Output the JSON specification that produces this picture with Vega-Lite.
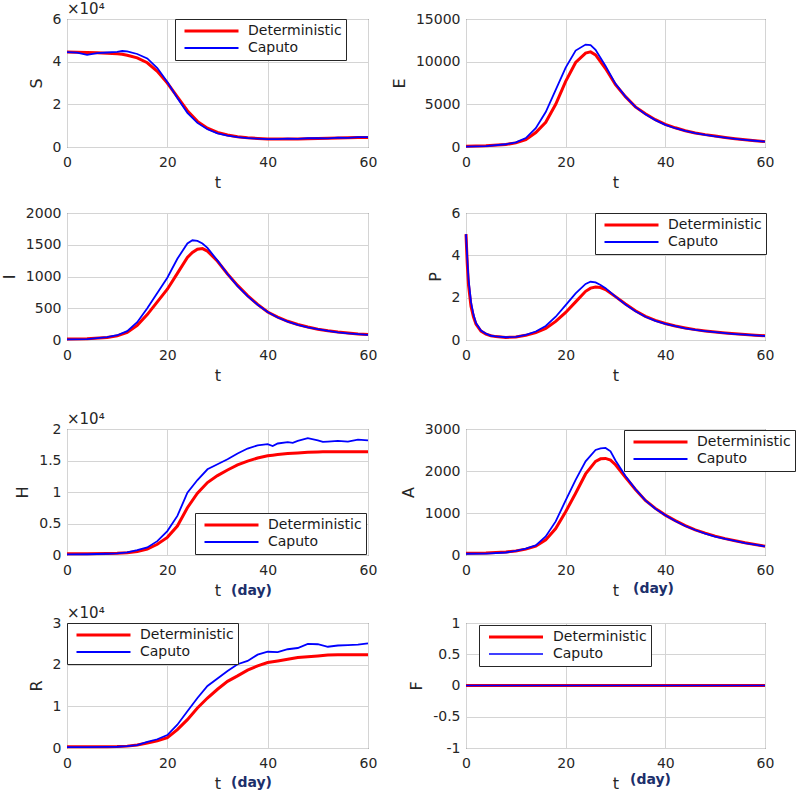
{
  "$schema": "https://vega.github.io/schema/vega-lite/v6.json",
  "padding": {"left": 0, "top": 1, "right": 0, "bottom": 0},
  "background": "white",
  "config": {
    "view": {"stroke": "#262626", "strokeWidth": 1},
    "font": "DejaVu Sans",
    "axis": {"labelFont": "DejaVu Sans", "labelFontSize": 14, "labelColor": "#262626", "titleFont": "DejaVu Sans", "titleFontSize": 16, "titleFontWeight": "normal", "titleColor": "#262626", "ticks": false, "domain": false, "gridColor": "#d4d4d4", "gridWidth": 1, "labelFlush": false, "labelOverlap": false},
    "axisX": {"labelPadding": 8, "titlePadding": 5},
    "axisY": {"labelPadding": 6, "titlePadding": 8},
    "legend": {"labelFont": "DejaVu Sans", "labelFontSize": 14, "labelColor": "#1a1a1a", "fillColor": "#ffffff", "strokeColor": "#262626", "padding": 4, "symbolSize": 2916, "symbolOffset": 4, "labelOffset": 8, "clipHeight": 16, "rowPadding": 1, "symbolType": "stroke"},
    "title": {"font": "DejaVu Sans", "fontSize": 15, "fontWeight": "normal", "color": "#262626", "anchor": "start", "frame": "group", "offset": -5}
  },
  "datasets": {
    "S": [
      {"t":0,"Deterministic":44500,"Caputo":44500},{"t":2,"Deterministic":44400,"Caputo":44200},{"t":4,"Deterministic":44300,"Caputo":43200},{"t":6,"Deterministic":44200,"Caputo":44000},{"t":8,"Deterministic":44000,"Caputo":44300},{"t":10,"Deterministic":43700,"Caputo":44600},{"t":11,"Deterministic":43500,"Caputo":45000},{"t":12,"Deterministic":43000,"Caputo":44800},{"t":14,"Deterministic":41800,"Caputo":43600},{"t":16,"Deterministic":39500,"Caputo":41500},{"t":18,"Deterministic":35500,"Caputo":37000},{"t":20,"Deterministic":30000,"Caputo":30500},{"t":22,"Deterministic":23500,"Caputo":23000},{"t":24,"Deterministic":17000,"Caputo":16000},{"t":26,"Deterministic":12000,"Caputo":11300},{"t":28,"Deterministic":8800,"Caputo":8300},{"t":30,"Deterministic":6800,"Caputo":6400},{"t":32,"Deterministic":5600,"Caputo":5300},{"t":34,"Deterministic":4800,"Caputo":4600},{"t":36,"Deterministic":4300,"Caputo":4200},{"t":38,"Deterministic":4000,"Caputo":3900},{"t":40,"Deterministic":3800,"Caputo":3700},{"t":42,"Deterministic":3700,"Caputo":3700},{"t":44,"Deterministic":3700,"Caputo":3900},{"t":46,"Deterministic":3800,"Caputo":3800},{"t":48,"Deterministic":3900,"Caputo":4100},{"t":50,"Deterministic":4000,"Caputo":4100},{"t":52,"Deterministic":4100,"Caputo":4000},{"t":54,"Deterministic":4200,"Caputo":4400},{"t":56,"Deterministic":4300,"Caputo":4300},{"t":58,"Deterministic":4400,"Caputo":4600},{"t":60,"Deterministic":4500,"Caputo":4600}
    ],
    "E": [
      {"t":0,"Deterministic":100,"Caputo":50},{"t":4,"Deterministic":140,"Caputo":100},{"t":8,"Deterministic":300,"Caputo":320},{"t":10,"Deterministic":480,"Caputo":550},{"t":12,"Deterministic":850,"Caputo":1050},{"t":14,"Deterministic":1700,"Caputo":2200},{"t":16,"Deterministic":2900,"Caputo":4100},{"t":18,"Deterministic":5000,"Caputo":6700},{"t":20,"Deterministic":7700,"Caputo":9300},{"t":22,"Deterministic":9900,"Caputo":11300},{"t":24,"Deterministic":11000,"Caputo":12000},{"t":25,"Deterministic":11150,"Caputo":11950},{"t":26,"Deterministic":10800,"Caputo":11400},{"t":28,"Deterministic":9200,"Caputo":9500},{"t":30,"Deterministic":7300,"Caputo":7400},{"t":32,"Deterministic":5900,"Caputo":5900},{"t":34,"Deterministic":4700,"Caputo":4700},{"t":36,"Deterministic":3900,"Caputo":3850},{"t":38,"Deterministic":3200,"Caputo":3150},{"t":40,"Deterministic":2650,"Caputo":2600},{"t":42,"Deterministic":2250,"Caputo":2200},{"t":44,"Deterministic":1900,"Caputo":1880},{"t":46,"Deterministic":1650,"Caputo":1620},{"t":48,"Deterministic":1450,"Caputo":1420},{"t":50,"Deterministic":1280,"Caputo":1250},{"t":52,"Deterministic":1120,"Caputo":1100},{"t":54,"Deterministic":980,"Caputo":960},{"t":56,"Deterministic":850,"Caputo":840},{"t":58,"Deterministic":740,"Caputo":730},{"t":60,"Deterministic":630,"Caputo":620}
    ],
    "I": [
      {"t":0,"Deterministic":15,"Caputo":10},{"t":4,"Deterministic":18,"Caputo":14},{"t":8,"Deterministic":40,"Caputo":45},{"t":10,"Deterministic":65,"Caputo":75},{"t":12,"Deterministic":120,"Caputo":140},{"t":14,"Deterministic":230,"Caputo":280},{"t":16,"Deterministic":400,"Caputo":500},{"t":18,"Deterministic":600,"Caputo":740},{"t":20,"Deterministic":800,"Caputo":980},{"t":22,"Deterministic":1050,"Caputo":1280},{"t":24,"Deterministic":1300,"Caputo":1520},{"t":25,"Deterministic":1380,"Caputo":1570},{"t":26,"Deterministic":1430,"Caputo":1560},{"t":27,"Deterministic":1440,"Caputo":1520},{"t":28,"Deterministic":1400,"Caputo":1450},{"t":30,"Deterministic":1240,"Caputo":1250},{"t":32,"Deterministic":1040,"Caputo":1040},{"t":34,"Deterministic":860,"Caputo":850},{"t":36,"Deterministic":700,"Caputo":690},{"t":38,"Deterministic":560,"Caputo":555},{"t":40,"Deterministic":440,"Caputo":440},{"t":42,"Deterministic":360,"Caputo":355},{"t":44,"Deterministic":295,"Caputo":290},{"t":46,"Deterministic":245,"Caputo":240},{"t":48,"Deterministic":205,"Caputo":200},{"t":50,"Deterministic":170,"Caputo":170},{"t":52,"Deterministic":145,"Caputo":145},{"t":54,"Deterministic":125,"Caputo":120},{"t":56,"Deterministic":110,"Caputo":105},{"t":58,"Deterministic":95,"Caputo":92},{"t":60,"Deterministic":85,"Caputo":82}
    ],
    "P": [
      {"t":0,"Deterministic":5.0,"Caputo":5.0},{"t":0.25,"Deterministic":3.6,"Caputo":3.9},{"t":0.5,"Deterministic":2.6,"Caputo":2.9},{"t":1,"Deterministic":1.6,"Caputo":1.8},{"t":1.5,"Deterministic":1.1,"Caputo":1.2},{"t":2,"Deterministic":0.75,"Caputo":0.8},{"t":3,"Deterministic":0.42,"Caputo":0.45},{"t":4,"Deterministic":0.28,"Caputo":0.3},{"t":5,"Deterministic":0.2,"Caputo":0.2},{"t":6,"Deterministic":0.16,"Caputo":0.17},{"t":8,"Deterministic":0.12,"Caputo":0.13},{"t":10,"Deterministic":0.14,"Caputo":0.15},{"t":12,"Deterministic":0.22,"Caputo":0.24},{"t":14,"Deterministic":0.35,"Caputo":0.4},{"t":16,"Deterministic":0.55,"Caputo":0.66},{"t":18,"Deterministic":0.88,"Caputo":1.1},{"t":20,"Deterministic":1.3,"Caputo":1.65},{"t":22,"Deterministic":1.8,"Caputo":2.2},{"t":24,"Deterministic":2.3,"Caputo":2.65},{"t":25,"Deterministic":2.45,"Caputo":2.75},{"t":26,"Deterministic":2.5,"Caputo":2.72},{"t":27,"Deterministic":2.48,"Caputo":2.6},{"t":28,"Deterministic":2.38,"Caputo":2.45},{"t":30,"Deterministic":2.05,"Caputo":2.05},{"t":32,"Deterministic":1.7,"Caputo":1.68},{"t":34,"Deterministic":1.38,"Caputo":1.36},{"t":36,"Deterministic":1.12,"Caputo":1.1},{"t":38,"Deterministic":0.93,"Caputo":0.9},{"t":40,"Deterministic":0.78,"Caputo":0.76},{"t":42,"Deterministic":0.66,"Caputo":0.65},{"t":44,"Deterministic":0.57,"Caputo":0.55},{"t":46,"Deterministic":0.49,"Caputo":0.48},{"t":48,"Deterministic":0.43,"Caputo":0.42},{"t":50,"Deterministic":0.38,"Caputo":0.37},{"t":52,"Deterministic":0.33,"Caputo":0.32},{"t":54,"Deterministic":0.29,"Caputo":0.28},{"t":56,"Deterministic":0.26,"Caputo":0.25},{"t":58,"Deterministic":0.23,"Caputo":0.22},{"t":60,"Deterministic":0.2,"Caputo":0.19}
    ],
    "H": [
      {"t":0,"Deterministic":200,"Caputo":100},{"t":4,"Deterministic":200,"Caputo":120},{"t":8,"Deterministic":220,"Caputo":200},{"t":10,"Deterministic":260,"Caputo":260},{"t":12,"Deterministic":350,"Caputo":420},{"t":14,"Deterministic":570,"Caputo":790},{"t":16,"Deterministic":950,"Caputo":1200},{"t":18,"Deterministic":1700,"Caputo":2200},{"t":20,"Deterministic":2800,"Caputo":3800},{"t":22,"Deterministic":4600,"Caputo":6200},{"t":24,"Deterministic":7500,"Caputo":9900},{"t":26,"Deterministic":9800,"Caputo":11900},{"t":28,"Deterministic":11500,"Caputo":13600},{"t":30,"Deterministic":12600,"Caputo":14400},{"t":32,"Deterministic":13500,"Caputo":15200},{"t":34,"Deterministic":14300,"Caputo":16100},{"t":36,"Deterministic":14900,"Caputo":16900},{"t":38,"Deterministic":15400,"Caputo":17400},{"t":40,"Deterministic":15750,"Caputo":17600},{"t":41,"Deterministic":15850,"Caputo":17300},{"t":42,"Deterministic":15950,"Caputo":17700},{"t":44,"Deterministic":16100,"Caputo":17900},{"t":45,"Deterministic":16150,"Caputo":17800},{"t":46,"Deterministic":16200,"Caputo":18100},{"t":48,"Deterministic":16300,"Caputo":18550},{"t":50,"Deterministic":16350,"Caputo":18200},{"t":51,"Deterministic":16370,"Caputo":17950},{"t":52,"Deterministic":16380,"Caputo":18000},{"t":54,"Deterministic":16400,"Caputo":18100},{"t":56,"Deterministic":16400,"Caputo":18000},{"t":58,"Deterministic":16400,"Caputo":18300},{"t":60,"Deterministic":16400,"Caputo":18200}
    ],
    "A": [
      {"t":0,"Deterministic":40,"Caputo":30},{"t":4,"Deterministic":45,"Caputo":35},{"t":8,"Deterministic":70,"Caputo":60},{"t":10,"Deterministic":95,"Caputo":100},{"t":12,"Deterministic":140,"Caputo":150},{"t":14,"Deterministic":210,"Caputo":230},{"t":16,"Deterministic":360,"Caputo":440},{"t":18,"Deterministic":630,"Caputo":800},{"t":20,"Deterministic":1030,"Caputo":1300},{"t":22,"Deterministic":1470,"Caputo":1790},{"t":24,"Deterministic":1930,"Caputo":2230},{"t":26,"Deterministic":2230,"Caputo":2500},{"t":27,"Deterministic":2290,"Caputo":2540},{"t":28,"Deterministic":2300,"Caputo":2550},{"t":29,"Deterministic":2260,"Caputo":2470},{"t":30,"Deterministic":2150,"Caputo":2250},{"t":32,"Deterministic":1850,"Caputo":1880},{"t":34,"Deterministic":1560,"Caputo":1570},{"t":36,"Deterministic":1300,"Caputo":1300},{"t":38,"Deterministic":1110,"Caputo":1100},{"t":40,"Deterministic":950,"Caputo":945},{"t":42,"Deterministic":820,"Caputo":810},{"t":44,"Deterministic":700,"Caputo":690},{"t":46,"Deterministic":600,"Caputo":595},{"t":48,"Deterministic":520,"Caputo":510},{"t":50,"Deterministic":450,"Caputo":440},{"t":52,"Deterministic":390,"Caputo":385},{"t":54,"Deterministic":340,"Caputo":335},{"t":56,"Deterministic":290,"Caputo":285},{"t":58,"Deterministic":250,"Caputo":245},{"t":60,"Deterministic":210,"Caputo":205}
    ],
    "R": [
      {"t":0,"Deterministic":300,"Caputo":200},{"t":4,"Deterministic":300,"Caputo":200},{"t":8,"Deterministic":320,"Caputo":250},{"t":10,"Deterministic":350,"Caputo":300},{"t":12,"Deterministic":450,"Caputo":450},{"t":14,"Deterministic":700,"Caputo":700},{"t":16,"Deterministic":1200,"Caputo":1450},{"t":18,"Deterministic":1700,"Caputo":2100},{"t":20,"Deterministic":2500,"Caputo":3100},{"t":22,"Deterministic":4400,"Caputo":5600},{"t":24,"Deterministic":6800,"Caputo":8800},{"t":26,"Deterministic":9600,"Caputo":12000},{"t":28,"Deterministic":12000,"Caputo":14900},{"t":30,"Deterministic":14100,"Caputo":16700},{"t":32,"Deterministic":16000,"Caputo":18500},{"t":34,"Deterministic":17300,"Caputo":20100},{"t":36,"Deterministic":18700,"Caputo":20900},{"t":38,"Deterministic":19700,"Caputo":22400},{"t":40,"Deterministic":20500,"Caputo":23100},{"t":42,"Deterministic":20900,"Caputo":23000},{"t":44,"Deterministic":21300,"Caputo":23700},{"t":46,"Deterministic":21700,"Caputo":24000},{"t":48,"Deterministic":21900,"Caputo":25000},{"t":50,"Deterministic":22100,"Caputo":24900},{"t":52,"Deterministic":22300,"Caputo":24300},{"t":54,"Deterministic":22400,"Caputo":24600},{"t":56,"Deterministic":22400,"Caputo":24700},{"t":58,"Deterministic":22400,"Caputo":24800},{"t":60,"Deterministic":22400,"Caputo":25100}
    ],
    "F": [
      {"t":0,"Deterministic":0,"Caputo":0},{"t":30,"Deterministic":0,"Caputo":0},{"t":60,"Deterministic":0,"Caputo":0}
    ]
  },
  "columns": 2,
  "bounds": "flush",
  "spacing": {"row": 0, "column": 98},
  "resolve": {"scale": {"x": "independent", "y": "independent", "color": "independent", "strokeWidth": "independent"}, "legend": {"color": "independent", "strokeWidth": "independent"}},
  "concat": [
    {
      "width": 301, "height": 128,
      "title": {"text": "×10⁴"},
      "data": {"name": "S"},
      "transform": [{"fold": ["Deterministic", "Caputo"], "as": ["series", "value"]}],
      "mark": {"type": "line"},
      "encoding": {
        "x": {"field": "t", "type": "quantitative", "scale": {"domain": [0, 60], "nice": false}, "axis": {"values": [0, 20, 40, 60], "title": "t"}},
        "y": {"field": "value", "type": "quantitative", "scale": {"domain": [0, 60000], "nice": false}, "axis": {"values": [0, 20000, 40000, 60000], "title": "S", "labelExpr": "'' + (datum.value / 10000)"}},
        "color": {"field": "series", "type": "nominal", "scale": {"domain": ["Deterministic", "Caputo"], "range": ["#ff0000", "#0000ff"]}, "legend": {"title": null, "orient": "none", "legendX": 108, "legendY": 0}},
        "strokeWidth": {"field": "series", "type": "ordinal", "scale": {"domain": ["Deterministic", "Caputo"], "range": [3, 1.8]}, "legend": {"title": null, "orient": "none", "legendX": 108, "legendY": 0}}
      }
    },
    {
      "width": 299, "height": 128,
      "data": {"name": "E"},
      "transform": [{"fold": ["Deterministic", "Caputo"], "as": ["series", "value"]}],
      "mark": {"type": "line"},
      "encoding": {
        "x": {"field": "t", "type": "quantitative", "scale": {"domain": [0, 60], "nice": false}, "axis": {"values": [0, 20, 40, 60], "title": "t"}},
        "y": {"field": "value", "type": "quantitative", "scale": {"domain": [0, 15000], "nice": false}, "axis": {"values": [0, 5000, 10000, 15000], "title": "E", "labelExpr": "'' + datum.value"}},
        "color": {"field": "series", "type": "nominal", "scale": {"domain": ["Deterministic", "Caputo"], "range": ["#ff0000", "#0000ff"]}, "legend": null},
        "strokeWidth": {"field": "series", "type": "ordinal", "scale": {"domain": ["Deterministic", "Caputo"], "range": [3, 1.8]}, "legend": null}
      }
    },
    {"width": 1, "height": 66, "view": {"stroke": null}, "data": {"values": [{"k": 0}]}, "mark": {"type": "point", "opacity": 0}, "encoding": {}},
    {"width": 1, "height": 66, "view": {"stroke": null}, "data": {"values": [{"k": 0}]}, "mark": {"type": "point", "opacity": 0}, "encoding": {}},
    {
      "width": 301, "height": 127,
      "data": {"name": "I"},
      "transform": [{"fold": ["Deterministic", "Caputo"], "as": ["series", "value"]}],
      "mark": {"type": "line"},
      "encoding": {
        "x": {"field": "t", "type": "quantitative", "scale": {"domain": [0, 60], "nice": false}, "axis": {"values": [0, 20, 40, 60], "title": "t"}},
        "y": {"field": "value", "type": "quantitative", "scale": {"domain": [0, 2000], "nice": false}, "axis": {"values": [0, 500, 1000, 1500, 2000], "title": "I", "labelExpr": "'' + datum.value"}},
        "color": {"field": "series", "type": "nominal", "scale": {"domain": ["Deterministic", "Caputo"], "range": ["#ff0000", "#0000ff"]}, "legend": null},
        "strokeWidth": {"field": "series", "type": "ordinal", "scale": {"domain": ["Deterministic", "Caputo"], "range": [3, 1.8]}, "legend": null}
      }
    },
    {
      "width": 299, "height": 127,
      "data": {"name": "P"},
      "transform": [{"fold": ["Deterministic", "Caputo"], "as": ["series", "value"]}],
      "mark": {"type": "line"},
      "encoding": {
        "x": {"field": "t", "type": "quantitative", "scale": {"domain": [0, 60], "nice": false}, "axis": {"values": [0, 20, 40, 60], "title": "t"}},
        "y": {"field": "value", "type": "quantitative", "scale": {"domain": [0, 6], "nice": false}, "axis": {"values": [0, 2, 4, 6], "title": "P", "labelExpr": "'' + datum.value"}},
        "color": {"field": "series", "type": "nominal", "scale": {"domain": ["Deterministic", "Caputo"], "range": ["#ff0000", "#0000ff"]}, "legend": {"title": null, "orient": "none", "legendX": 129, "legendY": 0}},
        "strokeWidth": {"field": "series", "type": "ordinal", "scale": {"domain": ["Deterministic", "Caputo"], "range": [3, 1.8]}, "legend": {"title": null, "orient": "none", "legendX": 129, "legendY": 0}}
      }
    },
    {"width": 1, "height": 89, "view": {"stroke": null}, "data": {"values": [{"k": 0}]}, "mark": {"type": "point", "opacity": 0}, "encoding": {}},
    {"width": 1, "height": 89, "view": {"stroke": null}, "data": {"values": [{"k": 0}]}, "mark": {"type": "point", "opacity": 0}, "encoding": {}},
    {
      "width": 301, "height": 126,
      "title": {"text": "×10⁴"},
      "data": {"name": "H"},
      "transform": [{"fold": ["Deterministic", "Caputo"], "as": ["series", "value"]}],
      "layer": [
        {
          "mark": {"type": "line"},
          "encoding": {
            "x": {"field": "t", "type": "quantitative", "scale": {"domain": [0, 60], "nice": false}, "axis": {"values": [0, 20, 40, 60], "title": "t"}},
            "y": {"field": "value", "type": "quantitative", "scale": {"domain": [0, 20000], "nice": false}, "axis": {"values": [0, 5000, 10000, 15000, 20000], "title": "H", "labelExpr": "'' + (datum.value / 10000)"}},
            "color": {"field": "series", "type": "nominal", "scale": {"domain": ["Deterministic", "Caputo"], "range": ["#ff0000", "#0000ff"]}, "legend": {"title": null, "orient": "none", "legendX": 128, "legendY": 84}},
            "strokeWidth": {"field": "series", "type": "ordinal", "scale": {"domain": ["Deterministic", "Caputo"], "range": [3, 1.8]}, "legend": {"title": null, "orient": "none", "legendX": 128, "legendY": 84}}
          }
        },
        {
          "mark": {"type": "rule", "opacity": 0},
          "encoding": {
            "x": {"aggregate": "min", "field": "t", "type": "quantitative", "axis": {"orient": "bottom", "title": "(day)", "labels": false, "ticks": false, "domain": false, "grid": false, "titleX": 184, "titleY": 28, "titleColor": "#1c2f6b", "titleFontWeight": "bold", "titleFontSize": 14}}
          }
        }
      ],
      "resolve": {"axis": {"x": "independent"}}
    },
    {
      "width": 299, "height": 126,
      "data": {"name": "A"},
      "transform": [{"fold": ["Deterministic", "Caputo"], "as": ["series", "value"]}],
      "layer": [
        {
          "mark": {"type": "line"},
          "encoding": {
            "x": {"field": "t", "type": "quantitative", "scale": {"domain": [0, 60], "nice": false}, "axis": {"values": [0, 20, 40, 60], "title": "t"}},
            "y": {"field": "value", "type": "quantitative", "scale": {"domain": [0, 3000], "nice": false}, "axis": {"values": [0, 1000, 2000, 3000], "title": "A", "labelExpr": "'' + datum.value"}},
            "color": {"field": "series", "type": "nominal", "scale": {"domain": ["Deterministic", "Caputo"], "range": ["#ff0000", "#0000ff"]}, "legend": {"title": null, "orient": "none", "legendX": 158, "legendY": 1}},
            "strokeWidth": {"field": "series", "type": "ordinal", "scale": {"domain": ["Deterministic", "Caputo"], "range": [3, 1.8]}, "legend": {"title": null, "orient": "none", "legendX": 158, "legendY": 1}}
          }
        },
        {
          "mark": {"type": "rule", "opacity": 0},
          "encoding": {
            "x": {"aggregate": "min", "field": "t", "type": "quantitative", "axis": {"orient": "bottom", "title": "(day)", "labels": false, "ticks": false, "domain": false, "grid": false, "titleX": 187, "titleY": 26, "titleColor": "#1c2f6b", "titleFontWeight": "bold", "titleFontSize": 14}}
          }
        }
      ],
      "resolve": {"axis": {"x": "independent"}}
    },
    {"width": 1, "height": 68, "view": {"stroke": null}, "data": {"values": [{"k": 0}]}, "mark": {"type": "point", "opacity": 0}, "encoding": {}},
    {"width": 1, "height": 68, "view": {"stroke": null}, "data": {"values": [{"k": 0}]}, "mark": {"type": "point", "opacity": 0}, "encoding": {}},
    {
      "width": 301, "height": 125,
      "title": {"text": "×10⁴"},
      "data": {"name": "R"},
      "transform": [{"fold": ["Deterministic", "Caputo"], "as": ["series", "value"]}],
      "layer": [
        {
          "mark": {"type": "line"},
          "encoding": {
            "x": {"field": "t", "type": "quantitative", "scale": {"domain": [0, 60], "nice": false}, "axis": {"values": [0, 20, 40, 60], "title": "t"}},
            "y": {"field": "value", "type": "quantitative", "scale": {"domain": [0, 30000], "nice": false}, "axis": {"values": [0, 10000, 20000, 30000], "title": "R", "labelExpr": "'' + (datum.value / 10000)"}},
            "color": {"field": "series", "type": "nominal", "scale": {"domain": ["Deterministic", "Caputo"], "range": ["#ff0000", "#0000ff"]}, "legend": {"title": null, "orient": "none", "legendX": 0, "legendY": 0}},
            "strokeWidth": {"field": "series", "type": "ordinal", "scale": {"domain": ["Deterministic", "Caputo"], "range": [3, 1.8]}, "legend": {"title": null, "orient": "none", "legendX": 0, "legendY": 0}}
          }
        },
        {
          "mark": {"type": "rule", "opacity": 0},
          "encoding": {
            "x": {"aggregate": "min", "field": "t", "type": "quantitative", "axis": {"orient": "bottom", "title": "(day)", "labels": false, "ticks": false, "domain": false, "grid": false, "titleX": 184, "titleY": 27, "titleColor": "#1c2f6b", "titleFontWeight": "bold", "titleFontSize": 14}}
          }
        }
      ],
      "resolve": {"axis": {"x": "independent"}}
    },
    {
      "width": 299, "height": 125,
      "data": {"name": "F"},
      "transform": [{"fold": ["Deterministic", "Caputo"], "as": ["series", "value"]}],
      "layer": [
        {
          "mark": {"type": "line"},
          "encoding": {
            "x": {"field": "t", "type": "quantitative", "scale": {"domain": [0, 60], "nice": false}, "axis": {"values": [0, 20, 40, 60], "title": "t"}},
            "y": {"field": "value", "type": "quantitative", "scale": {"domain": [-1, 1], "nice": false}, "axis": {"values": [-1, -0.5, 0, 0.5, 1], "title": "F", "labelExpr": "'' + datum.value"}},
            "color": {"field": "series", "type": "nominal", "scale": {"domain": ["Deterministic", "Caputo"], "range": ["#ff0000", "#0000ff"]}, "legend": {"title": null, "orient": "none", "legendX": 13, "legendY": 2}},
            "strokeWidth": {"field": "series", "type": "ordinal", "scale": {"domain": ["Deterministic", "Caputo"], "range": [3.2, 1.6]}, "legend": {"title": null, "orient": "none", "legendX": 13, "legendY": 2}}
          }
        },
        {
          "mark": {"type": "rule", "opacity": 0},
          "encoding": {
            "x": {"aggregate": "min", "field": "t", "type": "quantitative", "axis": {"orient": "bottom", "title": "(day)", "labels": false, "ticks": false, "domain": false, "grid": false, "titleX": 184, "titleY": 24, "titleColor": "#1c2f6b", "titleFontWeight": "bold", "titleFontSize": 14}}
          }
        }
      ],
      "resolve": {"axis": {"x": "independent"}}
    }
  ]
}
